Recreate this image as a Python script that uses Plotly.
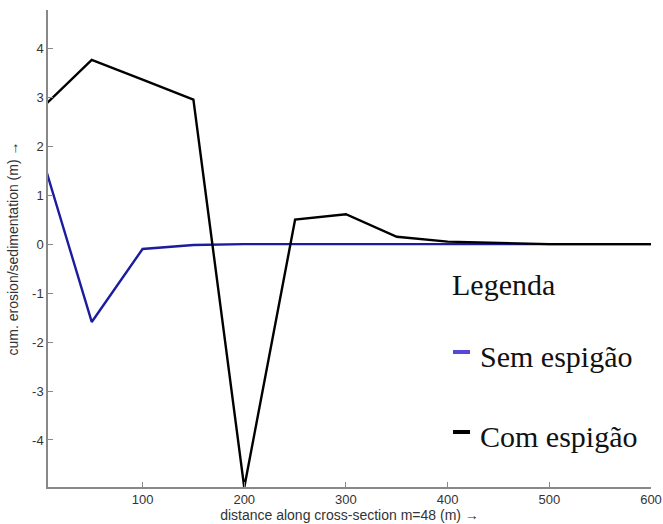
import plotly.graph_objects as go

# Data
x_vals = [0, 50, 100, 150, 200, 250, 300, 350, 400, 450, 500, 550, 600]
com_espigao = [2.76, 3.76, 3.36, 2.95, -4.97, 0.50, 0.61, 0.15, 0.05, 0.02, 0.0, 0.0, 0.0]
sem_espigao = [1.86, -1.59, -0.10, -0.02, 0.0, 0.0, 0.0, 0.0, 0.0, 0.0, 0.0, 0.0, 0.0]
x_ticks = [100, 200, 300, 400, 500, 600]
y_ticks = [-4, -3, -2, -1, 0, 1, 2, 3, 4]
y_tick_text = ["-4", "-3", "-2", "-1", "0", "1", "2", "3", "4"]

legend_title = "Legenda"
legend_names = ["Sem espigão", "Com espigão"]
legend_colors = ["#5548d8", "#000000"]

W, H = 663, 524
# plot area in window pixels: x 48..651, y 10..487
L, R, T, B = 48, 12, 10, 37

fig = go.Figure()
fig.add_trace(go.Scatter(x=x_vals, y=sem_espigao, mode="lines",
                         line=dict(color="#1c1c9e", width=2.4), showlegend=False))
fig.add_trace(go.Scatter(x=x_vals, y=com_espigao, mode="lines",
                         line=dict(color="#000000", width=2.4), showlegend=False))

axis_font = dict(family="Liberation Sans, Arial", size=13, color="#333333")
title_font = dict(family="Liberation Sans, Arial", size=14, color="#333333")
fig.update_layout(
    width=W, height=H,
    margin=dict(l=L, r=R, t=T, b=B, autoexpand=False),
    paper_bgcolor="white", plot_bgcolor="white",
    showlegend=False,
    xaxis=dict(range=[7, 600], tickvals=x_ticks, ticks="inside", ticklen=5,
               tickcolor="#888888", showline=True, linecolor="#888888", linewidth=1.5,
               showgrid=False, zeroline=False, tickfont=axis_font, automargin=False,
               title=dict(text="distance along cross-section m=48 (m) →",
                          font=title_font, standoff=0)),
    yaxis=dict(range=[-4.96, 4.78], tickvals=y_ticks, ticktext=y_tick_text,
               ticks="inside", ticklen=5,
               tickcolor="#888888", showline=True, linecolor="#888888", linewidth=1.5,
               showgrid=False, zeroline=False, tickfont=axis_font, automargin=False,
               title=dict(text="cum. erosion/sedimentation (m) →",
                          font=title_font, standoff=10)),
)

pw, ph = W - L - R, H - T - B
def px(xp):
    return (xp - L) / pw
def py(yp):
    return (H - B - yp) / ph

serif = "Liberation Serif, Times New Roman, serif"
fig.add_annotation(xref="paper", yref="paper", x=px(450), y=py(284), text=legend_title,
                   showarrow=False, xanchor="left", yanchor="middle",
                   font=dict(family=serif, size=30, color="#111111"))
rows_y = [356, 436]
marker_y = [352, 432]
for name, col, yy, my in zip(legend_names, legend_colors, rows_y, marker_y):
    fig.add_shape(type="line", xref="paper", yref="paper",
                  x0=px(453), x1=px(470), y0=py(my), y1=py(my),
                  line=dict(color=col, width=4))
    fig.add_annotation(xref="paper", yref="paper", x=px(478), y=py(yy), text=name,
                       showarrow=False, xanchor="left", yanchor="middle",
                       font=dict(family=serif, size=30, color="#111111"))

fig.write_html("out.html", config={"displayModeBar": False},
               post_script="document.body.style.margin='0';document.body.style.overflow='hidden';")
